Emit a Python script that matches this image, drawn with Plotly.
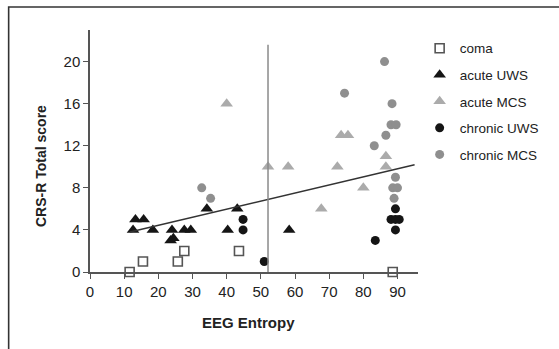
import plotly.graph_objects as go

# ---- data ----
coma_x = [11.6, 15.5, 25.7, 27.6, 43.6, 88.6]
coma_y = [0, 1, 1, 2, 2, 0]

acute_uws_x = [12.6, 13.3, 15.7, 18.4, 24.0, 23.6, 24.4, 27.6, 29.5, 34.2, 40.3, 43.1, 58.3]
acute_uws_y = [4, 5, 5, 4, 4, 3, 3.2, 4, 4, 6, 4, 6, 4]

acute_mcs_x = [40.0, 52.1, 58.0, 72.4, 86.6, 86.6, 73.5, 75.5, 67.7, 80.0]
acute_mcs_y = [16, 10, 10, 10, 10, 11, 13, 13, 6, 8]

chronic_uws_x = [44.8, 44.8, 51.0, 83.5, 89.4, 88.1, 89.4, 90.5, 89.4]
chronic_uws_y = [5, 4, 1, 3, 6, 5, 5, 5, 4]

chronic_mcs_x = [32.7, 35.3, 86.2, 74.5, 88.4, 88.1, 89.6, 86.6, 83.2, 89.4, 88.6, 90.0, 89.0]
chronic_mcs_y = [8, 7, 20, 17, 16, 14, 14, 13, 12, 9, 8, 8, 7]

threshold_x = 52.1
threshold_top = 21.6
reg_x = [11.7, 95.0]
reg_y = [3.8, 10.2]

x_ticks = [0, 10, 20, 30, 40, 50, 60, 70, 80, 90]
y_ticks = [0, 4, 8, 12, 16, 20]

FONT = "Liberation Sans, Arial, Helvetica, sans-serif"

fig = go.Figure()

def add(x, y, name, symbol, color, size, line_color=None, line_width=0, group=None):
    fig.add_trace(go.Scatter(
        x=x, y=y, mode="markers", name=name, legendgroup=group or name,
        marker=dict(symbol=symbol, color=color, size=size,
                    line=dict(color=line_color or color, width=line_width)),
        cliponaxis=False,
    ))

add(coma_x, coma_y, "coma", "square-open", "#555555", 9, "#555555", 1.6)
add(acute_uws_x, acute_uws_y, "acute UWS", "triangle-up", "#151515", 11)
add(acute_mcs_x, acute_mcs_y, "acute MCS", "triangle-up", "#ababab", 11)
add(chronic_uws_x, chronic_uws_y, "chronic UWS", "circle", "#151515", 9)
add(chronic_mcs_x, chronic_mcs_y, "chronic MCS", "circle", "#8f8f8f", 9)

# regression line
fig.add_trace(go.Scatter(x=reg_x, y=reg_y, mode="lines", showlegend=False,
                         line=dict(color="#333333", width=1.5), hoverinfo="skip"))
# threshold line
fig.add_trace(go.Scatter(x=[threshold_x, threshold_x], y=[0, threshold_top], mode="lines",
                         showlegend=False, line=dict(color="#8a8a8a", width=1.5),
                         hoverinfo="skip", cliponaxis=False))

# outer frame of the scanned figure
fig.add_shape(type="rect", xref="paper", yref="paper",
              x0=-0.248, x1=1.6, y0=-0.6, y1=1.095,
              line=dict(color="#333333", width=1.6), layer="below")

fig.add_annotation(text="<b>CRS-R Total score</b>", xref="paper", yref="paper",
                   x=-0.151, y=0.44, xanchor="center", yanchor="middle",
                   textangle=-90, showarrow=False,
                   font=dict(family=FONT, size=14, color="#222222"))
fig.add_annotation(text="<b>EEG Entropy</b>", xref="paper", yref="paper",
                   x=0.484, y=-0.2095, xanchor="center", yanchor="middle",
                   showarrow=False,
                   font=dict(family=FONT, size=15, color="#222222"))

fig.update_layout(
    width=559, height=349,
    margin=dict(l=89.5, r=141, t=30, b=77, autoexpand=False),
    paper_bgcolor="white", plot_bgcolor="white",
    font=dict(family=FONT, size=15, color="#222222"),
    showlegend=True,
    legend=dict(x=1.005, y=0.988, xanchor="left", yanchor="top",
                font=dict(family=FONT, size=13.5, color="#222222"),
                tracegroupgap=6, itemwidth=30, bgcolor="rgba(0,0,0,0)"),
    xaxis=dict(range=[0, 96], tickvals=x_ticks, ticks="outside", ticklen=5,
               tickcolor="#555555", showline=True, linecolor="#555555", linewidth=1.5,
               showgrid=False, zeroline=False, tickfont=dict(size=15), automargin=False),
    yaxis=dict(range=[0, 23], tickvals=y_ticks, ticks="outside", ticklen=5,
               tickcolor="#555555", showline=True, linecolor="#555555", linewidth=1.5,
               showgrid=False, zeroline=False, tickfont=dict(size=15), automargin=False),
)

fig.write_html("out.html", config={"displayModeBar": False},
               post_script="document.body.style.margin='0';document.body.style.overflow='hidden';")
